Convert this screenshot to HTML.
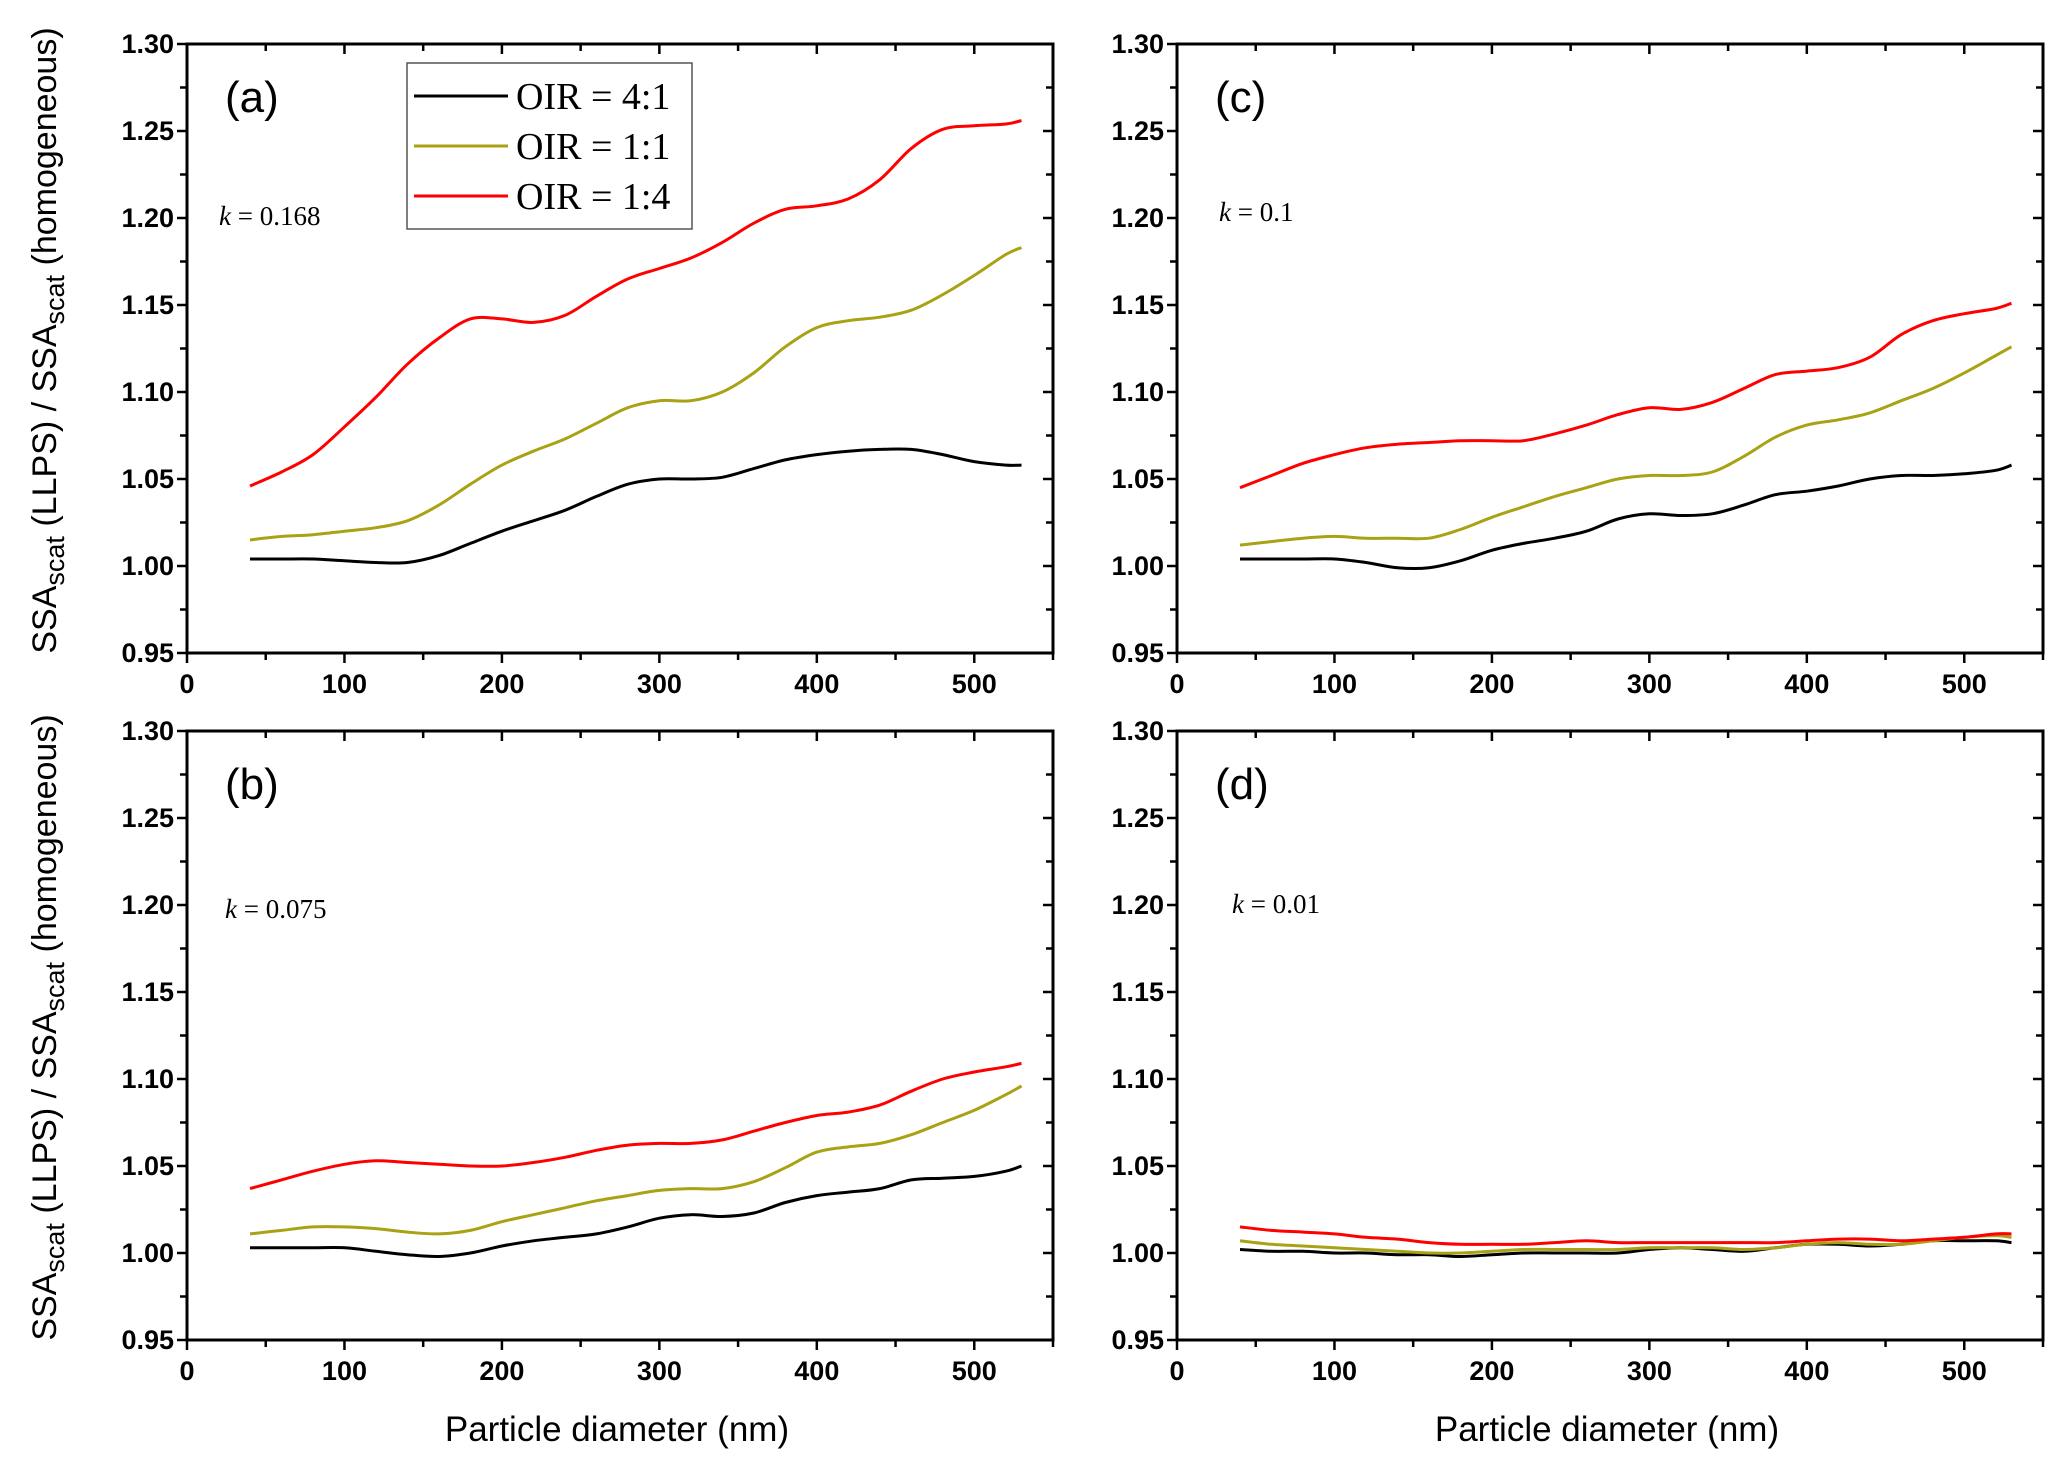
<!DOCTYPE html>
<html><head><meta charset="utf-8"><style>
html,body{margin:0;padding:0;background:#fff;}
svg{display:block;}
.tk{font-family:"Liberation Sans Narrow","Liberation Sans",sans-serif;font-weight:bold;font-size:27px;fill:#000;}
.ti{font-family:"Liberation Sans",sans-serif;font-size:34px;fill:#000;}
.tx{font-family:"Liberation Sans",sans-serif;font-size:35px;fill:#000;}
.pl{font-family:"Liberation Sans",sans-serif;font-size:44px;fill:#000;}
.kt{font-family:"Liberation Serif",serif;font-size:27px;fill:#000;}
.lg{font-family:"Liberation Serif",serif;font-size:38px;fill:#000;}
</style></head><body>
<svg id="fig" width="2067" height="1477" viewBox="0 0 2067 1477" xmlns="http://www.w3.org/2000/svg"></svg>
<script>
const xs=[40,60,80,100,120,140,160,180,200,220,240,260,280,300,320,340,360,380,400,420,440,460,480,500,520,530];
const aRed=[1.046,1.054,1.064,1.080,1.097,1.116,1.131,1.142,1.142,1.140,1.144,1.155,1.165,1.171,1.177,1.186,1.197,1.205,1.207,1.211,1.222,1.240,1.251,1.253,1.254,1.256];
const aOlive=[1.015,1.017,1.018,1.020,1.022,1.026,1.035,1.047,1.058,1.066,1.073,1.082,1.091,1.095,1.095,1.100,1.111,1.126,1.137,1.141,1.143,1.147,1.156,1.167,1.179,1.183];
const aBlack=[1.004,1.004,1.004,1.003,1.002,1.002,1.006,1.013,1.020,1.026,1.032,1.040,1.047,1.050,1.050,1.051,1.056,1.061,1.064,1.066,1.067,1.067,1.064,1.060,1.058,1.058];
const cRed=[1.045,1.052,1.059,1.064,1.068,1.070,1.071,1.072,1.072,1.072,1.076,1.081,1.087,1.091,1.090,1.094,1.102,1.110,1.112,1.114,1.120,1.133,1.141,1.145,1.148,1.151];
const cOlive=[1.012,1.014,1.016,1.017,1.016,1.016,1.016,1.021,1.028,1.034,1.040,1.045,1.050,1.052,1.052,1.054,1.063,1.074,1.081,1.084,1.088,1.095,1.102,1.111,1.121,1.126];
const cBlack=[1.004,1.004,1.004,1.004,1.002,0.999,0.999,1.003,1.009,1.013,1.016,1.020,1.027,1.030,1.029,1.030,1.035,1.041,1.043,1.046,1.050,1.052,1.052,1.053,1.055,1.058];
const bRed=[1.037,1.042,1.047,1.051,1.053,1.052,1.051,1.050,1.050,1.052,1.055,1.059,1.062,1.063,1.063,1.065,1.070,1.075,1.079,1.081,1.085,1.093,1.100,1.104,1.107,1.109];
const bOlive=[1.011,1.013,1.015,1.015,1.014,1.012,1.011,1.013,1.018,1.022,1.026,1.030,1.033,1.036,1.037,1.037,1.041,1.049,1.058,1.061,1.063,1.068,1.075,1.082,1.091,1.096];
const bBlack=[1.003,1.003,1.003,1.003,1.001,0.999,0.998,1.000,1.004,1.007,1.009,1.011,1.015,1.020,1.022,1.021,1.023,1.029,1.033,1.035,1.037,1.042,1.043,1.044,1.047,1.050];
const dRed=[1.015,1.013,1.012,1.011,1.009,1.008,1.006,1.005,1.005,1.005,1.006,1.007,1.006,1.006,1.006,1.006,1.006,1.006,1.007,1.008,1.008,1.007,1.008,1.009,1.011,1.011];
const dOlive=[1.007,1.005,1.004,1.003,1.002,1.001,1.000,1.000,1.001,1.002,1.002,1.002,1.002,1.003,1.003,1.003,1.002,1.003,1.005,1.006,1.005,1.005,1.007,1.009,1.010,1.009];
const dBlack=[1.002,1.001,1.001,1.000,1.000,0.999,0.999,0.998,0.999,1.000,1.000,1.000,1.000,1.002,1.003,1.002,1.001,1.003,1.005,1.005,1.004,1.005,1.007,1.007,1.007,1.006];
const xTicks=[0,100,200,300,400,500];
const yTicks=[0.95,1.00,1.05,1.10,1.15,1.20,1.25,1.30];
const colors={black:"#000000",olive:"#a8a214",red:"#ff0000"};
const NS="http://www.w3.org/2000/svg";
const svg=document.getElementById('fig');
function mk(tag,attrs,parent,text){const e=document.createElementNS(NS,tag);for(const k in attrs)e.setAttribute(k,attrs[k]);if(text!==undefined)e.textContent=text;(parent||svg).appendChild(e);return e;}
function smooth(pts){
 let d='M'+pts[0][0].toFixed(1)+','+pts[0][1].toFixed(1);
 for(let i=0;i<pts.length-1;i++){
  const p0=pts[Math.max(0,i-1)],p1=pts[i],p2=pts[i+1],p3=pts[Math.min(pts.length-1,i+2)];
  const c1=[p1[0]+(p2[0]-p0[0])/6,p1[1]+(p2[1]-p0[1])/6];
  const c2=[p2[0]-(p3[0]-p1[0])/6,p2[1]-(p3[1]-p1[1])/6];
  d+=' C'+c1[0].toFixed(1)+','+c1[1].toFixed(1)+' '+c2[0].toFixed(1)+','+c2[1].toFixed(1)+' '+p2[0].toFixed(1)+','+p2[1].toFixed(1);
 }
 return d;
}
const panels=[
 {id:'a',L:187,T:44,data:[aBlack,aOlive,aRed],k:'0.168',kx:219,ky:225,legend:true},
 {id:'c',L:1177,T:44,data:[cBlack,cOlive,cRed],k:'0.1',kx:1219,ky:221},
 {id:'b',L:187,T:731,data:[bBlack,bOlive,bRed],k:'0.075',kx:225,ky:918},
 {id:'d',L:1177,T:731,data:[dBlack,dOlive,dRed],k:'0.01',kx:1232,ky:913}
];
const W=866,H=609;
panels.forEach(p=>{
 const g=mk('g',{});
 
 
 const xS=v=>p.L+v/550*W;
 const yS=v=>p.T+(1.30-v)/0.35*H;
 const B=p.T+H,R=p.L+W;
 const frame=mk('rect',{x:p.L,y:p.T,width:W,height:H,fill:'none',stroke:'#000','stroke-width':3},g);
 
 
 for(let v=0;v<=550;v+=50){
  const maj=v%100===0,x=xS(v);
  mk('line',{x1:x,y1:B,x2:x,y2:B+(maj?10:7),stroke:'#000','stroke-width':2.5},g);
  mk('line',{x1:x,y1:p.T,x2:x,y2:p.T+(maj?10:7),stroke:'#000','stroke-width':2.5},g);
 }
 xTicks.forEach(v=>{const t=mk('text',{x:xS(v),y:B+40,'text-anchor':'middle',class:'tk'},g,String(v));
  
  });
 for(let i=0;i<=14;i++){
  const v=0.95+i*0.025,y=yS(v),maj=i%2===0;
  mk('line',{x1:p.L,y1:y,x2:p.L-(maj?10:7),y2:y,stroke:'#000','stroke-width':2.5},g);
  mk('line',{x1:R,y1:y,x2:R-(maj?10:7),y2:y,stroke:'#000','stroke-width':2.5},g);
 }
 yTicks.forEach(v=>{const t=mk('text',{x:p.L-13,y:yS(v)+9,'text-anchor':'end',class:'tk'},g,v.toFixed(2));
  
  });
 const names=['oir-4-1','oir-1-1','oir-1-4'],cols=[colors.black,colors.olive,colors.red];
 p.data.forEach((arr,si)=>{
  const pts=arr.map((v,i)=>[xS(xs[i]),yS(v)]);
  const path=mk('path',{d:smooth(pts),fill:'none',stroke:cols[si],'stroke-width':3,'stroke-linejoin':'round'},g);
  
  
 });
 const lab=mk('text',{x:p.L+38,y:p.T+68,class:'pl'},g,'('+p.id+')');
 
 
 const kt=mk('text',{x:p.kx,y:p.ky,class:'kt'},g);
 
 
 mk('tspan',{'font-style':'italic'},kt,'k');
 mk('tspan',{},kt,' = '+p.k);
 if(p.legend){
  const lg=mk('g',{},g);
  
  
  mk('rect',{x:407,y:63,width:285,height:166,fill:'#fff',stroke:'#555','stroke-width':1.5},lg);
  const labs=['OIR = 4:1','OIR = 1:1','OIR = 1:4'];
  labs.forEach((s,i)=>{const y=96+i*50;
   const ln=mk('line',{x1:414,y1:y,x2:508,y2:y,stroke:cols[i],'stroke-width':3},lg);
   
   
   const t=mk('text',{x:516,y:y+13,class:'lg'},lg,s);
   
   });
 }
});
[44,731].forEach((T,i)=>{
 const cy=T+H/2-8;
 const t=mk('text',{x:0,y:0,class:'ti','text-anchor':'middle',transform:`translate(56,${cy}) rotate(-90)`});
 
 
 mk('tspan',{},t,'SSA');mk('tspan',{'font-size':'27px',dy:8},t,'scat');
 mk('tspan',{dy:-8},t,' (LLPS) / SSA');mk('tspan',{'font-size':'27px',dy:8},t,'scat');
 mk('tspan',{dy:-8},t,' (homogeneous)');
});
[187,1177].forEach(L=>{
 const t=mk('text',{x:L+W/2-3,y:1441,class:'tx','text-anchor':'middle'},svg,'Particle diameter (nm)');
 
 
});
</script>
</body></html>
